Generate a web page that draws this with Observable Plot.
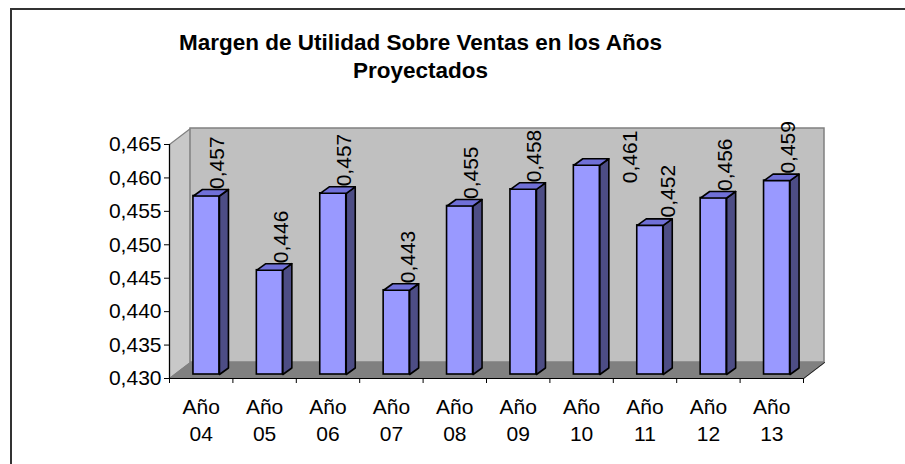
<!DOCTYPE html>
<html>
<head>
<meta charset="utf-8">
<script src="https://cdn.jsdelivr.net/npm/d3@7"></script>
<script src="https://cdn.jsdelivr.net/npm/@observablehq/plot@0.6"></script>
<style>
  html, body { margin: 0; padding: 0; background: #fff; }
  #wrap { position: relative; width: 905px; height: 464px; overflow: hidden; font-family: "Liberation Sans", Arial, sans-serif; }
  #border { position: absolute; left: 10px; top: 8px; width: 1200px; height: 1200px; border-left: 2px solid #333; border-top: 2px solid #333; pointer-events: none; }
  #title { position: absolute; left: 0; top: 28.5px; width: 841px; text-align: center; font-weight: bold; font-size: 22.5px; line-height: 28.6px; color: #000; }
  svg { display: block; }
</style>
</head>
<body>
<div id="wrap"><div id="title"></div><div id="border"></div></div>
<script>
// ---- data ----
const categories = ["Año 04", "Año 05", "Año 06", "Año 07", "Año 08", "Año 09", "Año 10", "Año 11", "Año 12", "Año 13"];
const values = [0.4567, 0.4456, 0.4571, 0.4426, 0.4552, 0.4577, 0.4613, 0.4523, 0.4564, 0.4590];
const yTicks = [0.430, 0.435, 0.440, 0.445, 0.450, 0.455, 0.460, 0.465];
const titleLines = ["Margen de Utilidad Sobre Ventas en los Años", "Proyectados"];

// ---- layout ----
const W = 905, H = 464, mL = 169, mR = 102, mT = 144, mB = 86;
const yMin = yTicks[0], yMax = yTicks[yTicks.length - 1];
const n = categories.length;
const kx = (W - mL - mR) / n;            // px per x unit
const ky = (H - mT - mB) / (yMax - yMin); // px per y unit
const WX = 21 / kx, WY = 16 / ky;        // wall depth
const fX = 0.25 * WX, fY = 0.25 * WY;    // bar front plane
const bX = 9 / kx, bY = 6.5 / ky;        // bar depth
const hw = 13 / kx;                      // bar half width
const base = yMin;
const FS = 21;

const fmt = v => d3.format(".3f")(v).replace(".", ",");

const bars = values.map((v, i) => ({
  i, v, cat: categories[i],
  xL: i + 0.5 - hw + fX, xR: i + 0.5 + hw + fX,
  y0: base + fY, y1: v + fY
}));

const sides = bars.flatMap(b => [
  {z: b.i, x: b.xR, y: b.y0}, {z: b.i, x: b.xR, y: b.y1},
  {z: b.i, x: b.xR + bX, y: b.y1 + bY}, {z: b.i, x: b.xR + bX, y: b.y0 + bY},
  {z: b.i, x: b.xR, y: b.y0}
]);
const tops = bars.flatMap(b => [
  {z: b.i, x: b.xL, y: b.y1}, {z: b.i, x: b.xR, y: b.y1},
  {z: b.i, x: b.xR + bX, y: b.y1 + bY}, {z: b.i, x: b.xL + bX, y: b.y1 + bY},
  {z: b.i, x: b.xL, y: b.y1}
]);
const leftWall = [
  {x: 0, y: base}, {x: 0, y: yMax}, {x: WX, y: yMax + WY}, {x: WX, y: base + WY}, {x: 0, y: base}
];
const floor = [
  {x: 0, y: base}, {x: n, y: base}, {x: n + WX, y: base + WY}, {x: WX, y: base + WY}, {x: 0, y: base}
];
const floorRightEdge = [{x: n, y: base}, {x: n + WX, y: base + WY}];

const regular = bars.filter(b => b.i !== 6 && b.i !== 7);

const chart = Plot.plot({
  width: W, height: H,
  marginLeft: mL, marginRight: mR, marginTop: mT, marginBottom: mB,
  style: {fontFamily: '"Liberation Sans", Arial, sans-serif', fontSize: FS + "px", color: "#000", background: "transparent"},
  x: {domain: [0, n], axis: null},
  y: {domain: [yMin, yMax], axis: null},
  marks: [
    // walls
    Plot.line(leftWall, {x: "x", y: "y", fill: "#c8c8c8", stroke: "#808080", strokeWidth: 1.2}),
    Plot.rect([0], {x1: WX, x2: n + WX, y1: base + WY, y2: yMax + WY, fill: "#c0c0c0", stroke: "#808080", strokeWidth: 1.5}),
    Plot.line(floor, {x: "x", y: "y", fill: "#808080", stroke: "#808080", strokeWidth: 1.2}),
    Plot.line(floorRightEdge, {x: "x", y: "y", stroke: "#222", strokeWidth: 1}),
    // axes
    Plot.ruleX([0], {y1: base, y2: yMax, stroke: "#000", strokeWidth: 1.2}),
    Plot.ruleY([base], {x1: 0, x2: n, stroke: "#000", strokeWidth: 1.2}),
    Plot.axisY({ticks: yTicks, tickFormat: fmt, tickSize: 5, tickPadding: 3, label: null, fontSize: FS, stroke: "#000"}),
    Plot.axisX({ticks: d3.range(0, n + 1), tickFormat: () => "", tickSize: 5, label: null, stroke: "#000"}),
    Plot.text(categories, {x: (d, i) => i + 0.5, y: () => base, text: d => d.replace(" ", "\n"),
      lineAnchor: "top", dy: 17, lineHeight: 1.27, fontSize: FS}),
    // bars
    Plot.rect(bars, {x1: "xL", x2: "xR", y1: "y0", y2: "y1", fill: "#9999ff", stroke: "#000", strokeWidth: 1.6}),
    Plot.line(sides, {x: "x", y: "y", z: "z", fill: "#4d4d85", stroke: "#000", strokeWidth: 1.6}),
    Plot.line(tops, {x: "x", y: "y", z: "z", fill: "#7070d8", stroke: "#000", strokeWidth: 1.6}),
    // value labels
    Plot.text(regular, {x: d => d.i + 0.5, y: "v", text: d => fmt(d.v), rotate: -90, textAnchor: "start", dx: 16.5, dy: -11, fontSize: FS}),
    Plot.text(bars.filter(b => b.i === 7), {x: d => d.i + 0.5, y: "v", text: d => fmt(d.v), rotate: -90, textAnchor: "start", dx: 23, dy: -12, fontSize: FS}),
    Plot.text(bars.filter(b => b.i === 6), {x: d => d.i + 0.5, y: "v", text: d => fmt(d.v), rotate: -90, textAnchor: "start", dx: 49, dy: 14, fontSize: FS})
  ]
});

const wrap = document.getElementById("wrap");
wrap.insertBefore(chart, wrap.firstChild);
document.getElementById("title").innerHTML = titleLines.join("<br>");
</script>
</body>
</html>
